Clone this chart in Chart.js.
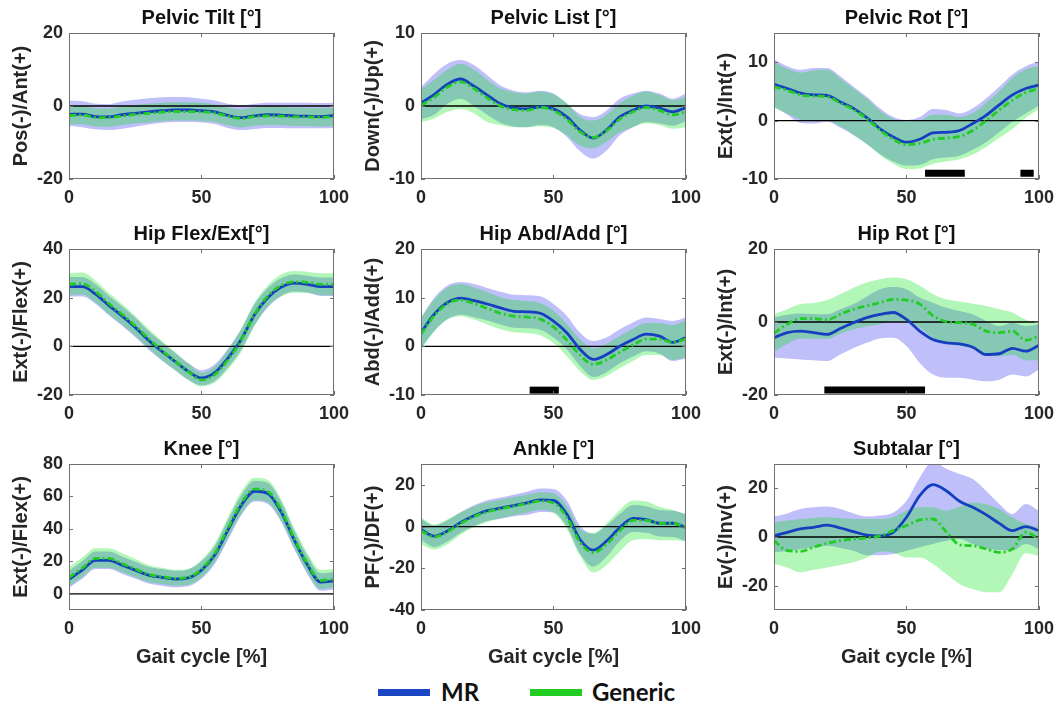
<!DOCTYPE html>
<html>
<head>
<meta charset="utf-8">
<script src="https://cdn.jsdelivr.net/npm/chart.js@4.4.0/dist/chart.umd.min.js"></script>
<style>
  html, body { margin: 0; padding: 0; background: #fff; }
  body { width: 1058px; height: 706px; position: relative; overflow: hidden; }
  .panel { position: absolute; }
  .legend-line { position: absolute; height: 7px; width: 52px; }
  .legend-text { position: absolute; font-family: Lato, "Open Sans", sans-serif; font-weight: 700; font-size: 24px; color: #111; line-height: 28px; }
</style>
</head>
<body>
<div class="legend-line" style="left:378px; top:689px; background:#1a46c4;"></div>
<div class="legend-text" style="left:441px; top:678px;">MR</div>
<div class="legend-line" style="left:530px; top:689px; background:#22cc22;"></div>
<div class="legend-text" style="left:592px; top:678px;">Generic</div>

<script>
// =============================================
// Gait kinematics: MR vs Generic (mean line + band)
// =============================================

const gaitPct = [0, 5, 10, 15, 20, 25, 30, 35, 40, 45, 50, 55, 60, 65, 70, 75, 80, 85, 90, 95, 100];
const xTicks = [0, 50, 100];
const refLevel = 0;

// --- Pelvic Tilt ---
const pelvicTiltMR    = [-2.3, -2.2, -2.9, -3.0, -2.4, -2.0, -1.6, -1.3, -1.1, -1.1, -1.3, -1.6, -2.6, -3.2, -2.7, -2.4, -2.5, -2.7, -2.8, -2.9, -2.6];
const pelvicTiltMRUp  = [1.5, 1.3, 0.6, 0.5, 1.2, 1.7, 2.1, 2.4, 2.5, 2.4, 2.0, 1.5, 0.6, 0.2, 0.6, 0.9, 0.9, 0.9, 0.9, 0.8, 0.9];
const pelvicTiltMRLo  = [-5.4, -5.8, -6.4, -6.6, -6.2, -5.7, -5.1, -4.6, -4.4, -4.4, -4.5, -4.9, -6.0, -6.6, -6.3, -6.0, -6.0, -6.1, -6.1, -6.1, -6.0];
const pelvicTiltGen   = [-2.6, -2.5, -3.1, -3.2, -2.7, -2.3, -2.0, -1.7, -1.5, -1.5, -1.6, -1.9, -2.8, -3.4, -2.9, -2.7, -2.8, -3.0, -3.0, -3.1, -2.9];
const pelvicTiltGenUp = [0.0, 0.0, -0.6, -0.7, -0.1, 0.3, 0.6, 0.9, 1.0, 1.0, 0.9, 0.5, -0.4, -0.9, -0.4, -0.2, -0.3, -0.5, -0.5, -0.6, -0.4];
const pelvicTiltGenLo = [-5.1, -5.0, -5.6, -5.7, -5.2, -4.8, -4.5, -4.2, -4.0, -4.0, -4.1, -4.4, -5.3, -5.9, -5.4, -5.2, -5.3, -5.5, -5.5, -5.6, -5.4];

// --- Pelvic List ---
const pelvicListMR    = [0.4, 1.6, 3.0, 3.7, 2.7, 1.5, 0.3, -0.3, -0.4, -0.1, -0.4, -1.5, -3.3, -4.4, -3.3, -1.5, -0.6, 0.0, -0.3, -0.8, -0.2];
const pelvicListMRUp  = [2.6, 4.4, 5.8, 6.3, 5.6, 4.2, 2.8, 2.1, 1.9, 2.1, 1.7, 0.3, -1.1, -1.5, -0.6, 1.0, 1.7, 2.1, 1.7, 1.0, 1.7];
const pelvicListMRLo  = [-1.8, -1.2, 0.3, 1.0, 0.0, -1.2, -2.3, -2.8, -2.9, -2.6, -2.9, -4.2, -6.2, -7.2, -6.1, -4.0, -2.9, -2.2, -2.4, -2.7, -2.1];
const pelvicListGen   = [0.1, 1.2, 2.6, 3.3, 2.4, 1.1, 0.0, -0.5, -0.6, -0.2, -0.6, -1.8, -3.5, -4.3, -3.4, -1.8, -0.8, -0.2, -0.6, -1.2, -0.8];
const pelvicListGenUp = [2.3, 3.6, 5.0, 5.8, 5.0, 3.6, 2.4, 1.9, 1.7, 2.0, 1.6, 0.4, -1.5, -2.0, -1.2, 0.4, 1.4, 2.0, 1.5, 0.8, 1.2];
const pelvicListGenLo = [-2.2, -1.7, -0.8, -0.4, -1.0, -2.2, -2.6, -2.9, -2.9, -2.8, -3.0, -4.0, -5.4, -5.8, -4.9, -3.6, -2.9, -2.4, -2.6, -3.1, -2.9];

// --- Pelvic Rot ---
const pelvicRotMR    = [6.2, 5.5, 4.7, 4.4, 4.3, 3.2, 2.1, 0.5, -1.4, -2.8, -3.7, -3.2, -2.1, -2.0, -1.7, -0.5, 0.9, 2.7, 4.4, 5.5, 6.1];
const pelvicRotMRUp  = [10.5, 9.3, 8.7, 9.0, 9.0, 7.6, 5.8, 4.1, 2.1, 0.6, 0.1, 0.6, 2.0, 1.8, 1.2, 2.1, 3.8, 5.8, 7.9, 9.3, 10.1];
const pelvicRotMRLo  = [2.4, 1.0, -0.4, -0.5, -0.2, -1.2, -2.5, -4.0, -5.7, -7.0, -7.7, -7.6, -6.6, -6.3, -6.0, -5.0, -3.7, -2.0, -0.2, 1.2, 2.6];
const pelvicRotGen   = [5.8, 5.2, 4.4, 4.2, 4.1, 3.0, 1.9, 0.3, -1.6, -3.2, -4.1, -3.9, -3.2, -3.0, -2.7, -1.7, 0.0, 1.8, 3.5, 4.8, 5.5];
const pelvicRotGenUp = [10.0, 8.9, 8.2, 8.6, 8.7, 7.2, 5.5, 3.8, 1.7, 0.3, -0.2, 0.0, 1.0, 1.0, 0.6, 1.3, 3.0, 5.0, 7.3, 8.8, 9.3];
const pelvicRotGenLo = [2.2, 1.2, 0.2, 0.0, 0.0, -1.0, -2.4, -4.0, -5.9, -7.4, -8.3, -8.2, -7.4, -7.0, -6.6, -5.8, -4.5, -3.0, -1.4, 0.5, 2.0];
const pelvicRotSig = [[57, 72], [93, 98]];
const pelvicRotSigLevel = -9;

// --- Hip Flex/Ext ---
const hipFlexMR    = [24.5, 24.5, 21.5, 16.8, 12.5, 7.8, 2.5, -2.0, -6.2, -10.3, -13.0, -10.8, -4.8, 2.8, 13.0, 20.0, 24.3, 26.0, 25.5, 24.5, 24.5];
const hipFlexMRUp  = [28.5, 28.5, 25.5, 20.8, 16.5, 11.8, 6.3, 1.8, -2.6, -6.9, -9.8, -7.4, -1.0, 7.0, 17.3, 24.0, 28.0, 29.5, 29.0, 28.3, 28.3];
const hipFlexMRLo  = [20.5, 20.5, 17.5, 12.8, 8.5, 3.8, -1.3, -5.8, -9.8, -13.7, -16.0, -14.2, -8.6, -1.4, 8.7, 16.0, 20.6, 22.5, 22.0, 20.7, 20.7];
const hipFlexGen   = [25.5, 25.8, 22.5, 17.6, 13.2, 8.4, 3.2, -1.6, -6.0, -10.4, -13.8, -11.6, -5.5, 2.5, 13.2, 20.7, 25.0, 26.5, 26.3, 25.5, 25.5];
const hipFlexGenUp = [30.0, 30.3, 27.0, 22.0, 17.4, 12.5, 7.2, 2.3, -2.3, -7.0, -10.8, -8.3, -1.5, 7.3, 18.0, 25.0, 29.5, 31.0, 30.6, 30.0, 30.0];
const hipFlexGenLo = [21.0, 21.3, 18.0, 13.2, 9.0, 4.3, -0.8, -5.5, -9.7, -13.8, -16.5, -14.9, -9.5, -2.3, 8.4, 16.4, 20.5, 22.0, 22.0, 21.0, 21.0];

// --- Hip Abd/Add ---
const hipAbdMR    = [2.8, 6.6, 9.0, 9.9, 9.4, 8.7, 7.9, 7.2, 7.1, 6.8, 5.2, 2.8, -0.6, -2.7, -1.7, 0.0, 1.4, 2.5, 2.1, 0.8, 1.8];
const hipAbdMRUp  = [5.9, 10.0, 12.5, 13.2, 12.8, 12.0, 11.2, 10.6, 10.5, 10.3, 8.7, 6.3, 2.8, 1.1, 1.8, 3.5, 4.9, 5.9, 5.6, 5.2, 5.9];
const hipAbdMRLo  = [-0.3, 3.2, 5.6, 6.5, 6.0, 5.3, 4.5, 3.8, 3.7, 3.4, 1.8, -0.6, -4.0, -6.3, -5.3, -3.5, -2.1, -1.0, -1.5, -3.0, -2.5];
const hipAbdGen   = [2.5, 6.3, 8.8, 9.5, 8.8, 7.8, 6.8, 6.2, 6.0, 5.6, 4.0, 1.3, -1.8, -3.7, -2.8, -1.2, 0.3, 1.5, 1.5, 0.8, 1.5];
const hipAbdGenUp = [5.8, 9.6, 12.1, 12.8, 12.1, 11.1, 10.1, 9.5, 9.3, 8.9, 7.3, 4.6, 1.5, -0.4, 0.5, 2.1, 3.6, 4.8, 4.8, 4.4, 5.3];
const hipAbdGenLo = [-0.6, 3.0, 5.5, 6.2, 5.5, 4.5, 3.5, 2.9, 2.7, 2.3, 0.7, -2.0, -5.1, -6.9, -6.1, -4.5, -3.0, -1.8, -1.8, -2.8, -2.3];
const hipAbdSig = [[41, 52]];
const hipAbdSigLevel = -9;

// --- Hip Rot ---
const hipRotMR    = [-4.3, -2.9, -2.5, -2.9, -3.4, -1.8, -0.2, 1.2, 2.1, 2.6, 0.7, -2.5, -4.8, -5.7, -6.0, -6.9, -8.9, -8.7, -7.2, -8.0, -6.4];
const hipRotMRUp  = [1.2, 2.0, 2.3, 2.2, 2.1, 3.5, 4.9, 7.0, 9.0, 9.6, 9.0, 6.7, 5.3, 3.9, 3.0, 2.1, 0.3, -1.1, -0.2, -1.1, -0.6];
const hipRotMRLo  = [-9.8, -10.0, -10.3, -10.5, -10.7, -8.9, -7.1, -5.7, -4.5, -4.3, -6.6, -11.2, -14.4, -15.3, -15.3, -15.8, -16.2, -15.8, -14.4, -14.9, -13.0];
const hipRotGen   = [-3.1, -0.6, 0.9, 0.9, 0.6, 2.1, 3.5, 4.4, 5.3, 6.2, 6.0, 4.9, 1.7, 0.1, -0.2, -0.6, -2.5, -2.9, -2.5, -5.0, -3.9];
const hipRotGenUp = [2.1, 3.5, 4.9, 5.2, 6.0, 7.6, 9.4, 10.8, 11.7, 12.2, 11.7, 9.9, 7.6, 6.2, 5.6, 5.0, 4.4, 3.5, 2.6, 0.6, -0.2];
const hipRotGenLo = [-8.0, -6.0, -4.5, -4.6, -4.6, -3.2, -2.0, -1.2, -0.6, 0.2, 0.2, -1.5, -4.3, -5.8, -6.5, -7.0, -8.6, -9.4, -9.0, -10.5, -10.5];
const hipRotSig = [[19, 57]];
const hipRotSigLevel = -18.6;

// --- Knee ---
const kneeMR    = [8.9, 14.6, 20.6, 20.6, 17.7, 14.6, 11.5, 10.1, 9.1, 9.8, 14.6, 23.9, 39.4, 54.5, 63.2, 61.8, 50.7, 33.2, 17.7, 7.2, 8.0];
const kneeMRUp  = [14.2, 20.0, 26.0, 26.0, 23.0, 19.8, 16.7, 15.2, 14.2, 15.0, 20.0, 29.5, 45.5, 60.7, 69.5, 68.3, 57.0, 39.0, 23.3, 12.6, 13.4];
const kneeMRLo  = [3.6, 9.2, 15.2, 15.2, 12.4, 9.4, 6.3, 5.0, 4.0, 4.6, 9.2, 18.3, 33.3, 48.3, 56.9, 55.3, 44.4, 27.4, 12.1, 1.8, 2.6];
const kneeGen   = [10.0, 15.8, 21.8, 21.8, 18.6, 15.3, 12.0, 10.5, 9.5, 10.2, 15.2, 24.8, 40.5, 55.7, 64.5, 63.1, 51.8, 34.0, 18.5, 8.2, 9.0];
const kneeGenUp = [16.5, 22.3, 28.0, 28.0, 25.0, 21.5, 17.8, 16.0, 14.8, 15.5, 21.0, 31.0, 47.2, 62.7, 71.5, 70.1, 58.5, 40.5, 25.0, 14.7, 15.5];
const kneeGenLo = [4.5, 10.3, 16.0, 16.0, 13.3, 10.2, 7.2, 6.0, 5.0, 5.5, 10.2, 19.5, 34.5, 49.2, 57.7, 56.3, 45.5, 28.5, 13.0, 3.0, 4.0];

// --- Ankle ---
const ankleMR    = [-1.3, -4.6, -2.1, 2.0, 5.2, 7.6, 8.8, 10.1, 11.4, 12.8, 12.5, 6.0, -6.2, -11.3, -7.0, -0.5, 3.9, 3.3, 1.6, 1.6, -0.5];
const ankleMRUp  = [3.6, 0.5, 3.0, 7.0, 10.2, 12.6, 13.9, 15.3, 16.7, 18.3, 18.0, 12.5, 0.5, -3.5, 0.5, 6.0, 10.4, 9.8, 8.0, 7.6, 6.0];
const ankleMRLo  = [-6.3, -9.8, -7.2, -3.0, 0.2, 2.7, 3.8, 5.0, 5.5, 7.0, 6.8, 0.0, -13.0, -19.2, -14.5, -7.0, -2.6, -3.0, -4.8, -5.0, -7.0];
const ankleGen   = [-2.0, -5.0, -2.5, 1.5, 4.8, 7.0, 8.5, 9.8, 11.0, 12.2, 11.3, 4.5, -7.5, -12.5, -8.5, -2.0, 3.0, 3.0, 1.5, 1.5, -0.5];
const ankleGenUp = [4.5, 1.0, 3.5, 6.8, 9.8, 11.8, 13.0, 14.2, 15.2, 16.4, 16.0, 10.0, -1.0, -3.0, 1.5, 8.0, 12.5, 12.0, 9.5, 8.0, 6.0];
const ankleGenLo = [-8.5, -11.0, -8.5, -3.8, -0.2, 2.2, 4.0, 5.4, 6.8, 8.0, 6.6, -1.0, -14.0, -22.0, -18.5, -12.0, -6.5, -6.0, -6.5, -6.5, -7.0];

// --- Subtalar ---
const subtalarMR    = [0.5, 1.9, 3.3, 4.0, 4.9, 3.7, 2.2, 0.8, 0.5, 1.9, 8.1, 17.0, 21.5, 19.0, 14.7, 12.2, 9.2, 5.6, 2.6, 4.3, 2.6];
const subtalarMRUp  = [8.4, 9.7, 11.5, 12.2, 12.5, 11.5, 9.7, 8.4, 8.8, 10.1, 14.9, 24.5, 31.0, 28.0, 25.9, 23.8, 19.0, 13.6, 9.5, 13.6, 10.8];
const subtalarMRLo  = [-6.3, -5.8, -5.0, -4.3, -3.6, -4.5, -5.6, -7.5, -7.5, -7.0, -5.6, -4.2, -2.9, -1.5, -0.8, -2.9, -4.9, -5.3, -5.6, -2.9, -4.9];
const subtalarGen   = [-1.5, -5.6, -5.9, -4.2, -2.6, -1.5, -0.8, -0.4, 0.5, 2.6, 4.7, 7.0, 7.4, 2.2, -3.2, -3.6, -4.9, -6.3, -4.9, 1.9, -0.8];
const subtalarGenUp = [6.0, 6.8, 7.4, 7.8, 8.1, 7.8, 7.4, 7.4, 7.4, 8.2, 10.8, 12.2, 12.2, 10.8, 12.5, 14.2, 13.5, 11.5, 8.0, 5.3, 4.0];
const subtalarGenLo = [-11.0, -12.5, -14.5, -13.5, -12.5, -11.5, -10.4, -8.5, -6.0, -6.5, -8.4, -8.4, -11.1, -15.2, -19.3, -21.4, -22.7, -22.7, -15.2, -6.7, -7.7];

// --- panel labels / axes ---
const panelTitles = ['Pelvic Tilt [°]', 'Pelvic List [°]', 'Pelvic Rot [°]', 'Hip Flex/Ext[°]', 'Hip Abd/Add [°]', 'Hip Rot [°]', 'Knee [°]', 'Ankle [°]', 'Subtalar [°]'];
const yTitles = ['Pos(-)/Ant(+)', 'Down(-)/Up(+)', 'Ext(-)/Int(+)', 'Ext(-)/Flex(+)', 'Abd(-)/Add(+)', 'Ext(-)/Int(+)', 'Ext(-)/Flex(+)', 'PF(-)/DF(+)', 'Ev(-)/Inv(+)'];
const yRanges = [[-20, 20], [-10, 10], [-10, 15], [-20, 40], [-10, 20], [-20, 20], [-10, 80], [-40, 30], [-30, 30]];
const yTickSets = [[-20, 0, 20], [-10, 0, 10], [-10, 0, 10], [-20, 0, 20, 40], [-10, 0, 10, 20], [-20, 0, 20], [0, 20, 40, 60, 80], [-40, -20, 0, 20], [-20, 0, 20]];
const xTitle = 'Gait cycle [%]';

const panels = [
  { mr: pelvicTiltMR, mrUp: pelvicTiltMRUp, mrLo: pelvicTiltMRLo, gen: pelvicTiltGen, genUp: pelvicTiltGenUp, genLo: pelvicTiltGenLo },
  { mr: pelvicListMR, mrUp: pelvicListMRUp, mrLo: pelvicListMRLo, gen: pelvicListGen, genUp: pelvicListGenUp, genLo: pelvicListGenLo },
  { mr: pelvicRotMR, mrUp: pelvicRotMRUp, mrLo: pelvicRotMRLo, gen: pelvicRotGen, genUp: pelvicRotGenUp, genLo: pelvicRotGenLo, sig: pelvicRotSig, sigLevel: pelvicRotSigLevel },
  { mr: hipFlexMR, mrUp: hipFlexMRUp, mrLo: hipFlexMRLo, gen: hipFlexGen, genUp: hipFlexGenUp, genLo: hipFlexGenLo },
  { mr: hipAbdMR, mrUp: hipAbdMRUp, mrLo: hipAbdMRLo, gen: hipAbdGen, genUp: hipAbdGenUp, genLo: hipAbdGenLo, sig: hipAbdSig, sigLevel: hipAbdSigLevel },
  { mr: hipRotMR, mrUp: hipRotMRUp, mrLo: hipRotMRLo, gen: hipRotGen, genUp: hipRotGenUp, genLo: hipRotGenLo, sig: hipRotSig, sigLevel: hipRotSigLevel },
  { mr: kneeMR, mrUp: kneeMRUp, mrLo: kneeMRLo, gen: kneeGen, genUp: kneeGenUp, genLo: kneeGenLo },
  { mr: ankleMR, mrUp: ankleMRUp, mrLo: ankleMRLo, gen: ankleGen, genUp: ankleGenUp, genLo: ankleGenLo },
  { mr: subtalarMR, mrUp: subtalarMRUp, mrLo: subtalarMRLo, gen: subtalarGen, genUp: subtalarGenUp, genLo: subtalarGenLo }
];

// layout (px)
const COL_LEFT = [69, 421, 774];
const ROW_TOP = [33, 249, 464];
const PLOT_W = 266, PLOT_H = 146;
const AXIS_W = 69, TITLE_H = 33;

const FONT = '"Liberation Sans", Arial, sans-serif';
const TEXT = '#262626';
const MR_LINE = '#1440c0';
const GEN_LINE = '#22cc22';
const MR_BAND = 'rgba(8, 8, 236, 0.26)';
const GEN_BAND = 'rgba(0, 225, 20, 0.30)';

const toXY = ys => gaitPct.map((x, i) => ({ x, y: ys[i] }));

// axes box with inward tick marks, like a MATLAB "box on" axes
const frameBox = {
  id: 'frameBox',
  afterDatasetsDraw(chart) {
    const { ctx, chartArea: a, scales: { x, y } } = chart;
    ctx.save();
    ctx.strokeStyle = '#707070';
    ctx.lineWidth = 1;
    ctx.strokeRect(a.left + 0.5, a.top + 0.5, a.width - 1, a.height - 1);
    ctx.beginPath();
    x.ticks.forEach(t => {
      const px = Math.round(x.getPixelForValue(t.value)) + 0.5;
      ctx.moveTo(px, a.bottom); ctx.lineTo(px, a.bottom - 4);
      ctx.moveTo(px, a.top); ctx.lineTo(px, a.top + 4);
    });
    y.ticks.forEach(t => {
      const py = Math.round(y.getPixelForValue(t.value)) + 0.5;
      ctx.moveTo(a.left, py); ctx.lineTo(a.left + 4, py);
      ctx.moveTo(a.right, py); ctx.lineTo(a.right - 4, py);
    });
    ctx.stroke();
    ctx.restore();
  }
};

// significance bars: one segment per range, broken by a null point between ranges
function sigData(ranges, level) {
  const pts = [];
  (ranges || []).forEach(([a, b], i) => {
    if (i > 0) pts.push({ x: a, y: null });
    pts.push({ x: a, y: level }, { x: b, y: level });
  });
  return pts;
}

function makePanel(idx) {
  const p = panels[idx];
  const col = idx % 3, row = Math.floor(idx / 3);
  const bottomRow = row === 2;
  const w = AXIS_W + PLOT_W + 22;
  const h = TITLE_H + PLOT_H + (bottomRow ? 60 : 30);

  const wrap = document.createElement('div');
  wrap.className = 'panel';
  wrap.style.left = (COL_LEFT[col] - AXIS_W) + 'px';
  wrap.style.top = (ROW_TOP[row] - TITLE_H) + 'px';
  const canvas = document.createElement('canvas');
  canvas.width = w;
  canvas.height = h;
  wrap.appendChild(canvas);
  document.body.appendChild(wrap);

  const band = (data, color, order, fill) => ({
    data: toXY(data), fill: fill ? '+1' : false, backgroundColor: color,
    borderWidth: 0, borderColor: 'transparent', pointRadius: 0, order,
    cubicInterpolationMode: 'monotone'
  });

  const datasets = [
    band(p.mrUp, MR_BAND, 7, true),
    band(p.mrLo, MR_BAND, 7, false),
    band(p.genUp, GEN_BAND, 6, true),
    band(p.genLo, GEN_BAND, 6, false),
    {
      data: [{ x: gaitPct[0], y: refLevel }, { x: gaitPct[gaitPct.length - 1], y: refLevel }],
      borderColor: '#000', borderWidth: 1.3, pointRadius: 0, fill: false, order: 3
    },
    {
      data: toXY(p.mr), borderColor: MR_LINE, borderWidth: 2.8, pointRadius: 0,
      fill: false, order: 2, cubicInterpolationMode: 'monotone'
    },
    {
      data: toXY(p.gen), borderColor: GEN_LINE, borderWidth: 2.8, pointRadius: 0,
      borderDash: [7, 3, 2, 3], fill: false, order: 1, cubicInterpolationMode: 'monotone'
    },
    {
      data: sigData(p.sig, p.sigLevel), borderColor: '#000', borderWidth: 7,
      borderCapStyle: 'butt', pointRadius: 0, fill: false, spanGaps: false, order: 0
    }
  ];

  const tickFont = { family: FONT, size: 18, weight: 'bold' };

  new Chart(canvas, {
    type: 'line',
    data: { datasets },
    options: {
      responsive: false,
      animation: false,
      events: [],
      layout: { padding: 0 },
      plugins: {
        legend: { display: false },
        tooltip: { enabled: false },
        title: {
          display: true,
          text: panelTitles[idx],
          fullSize: false,
          color: '#111',
          font: { family: FONT, size: 20, weight: 'bold', lineHeight: 1.2 },
          padding: { top: 6, bottom: 3 }
        }
      },
      scales: {
        x: {
          type: 'linear',
          min: 0, max: 100,
          grid: { display: false, drawTicks: false },
          border: { display: false },
          ticks: { font: tickFont, color: TEXT, padding: 8, maxRotation: 0, autoSkip: false },
          afterBuildTicks: s => { s.ticks = xTicks.map(v => ({ value: v })); },
          afterFit: s => { s.height = bottomRow ? 60 : 30; },
          title: {
            display: bottomRow,
            text: xTitle,
            color: TEXT,
            font: { family: FONT, size: 20, weight: 'bold', lineHeight: 1.2 },
            padding: { top: 0, bottom: 1 }
          }
        },
        y: {
          min: yRanges[idx][0], max: yRanges[idx][1],
          grid: { display: false, drawTicks: false },
          border: { display: false },
          ticks: { font: tickFont, color: TEXT, padding: 6 },
          afterBuildTicks: s => { s.ticks = yTickSets[idx].map(v => ({ value: v })); },
          afterFit: s => { s.width = AXIS_W; },
          title: {
            display: true,
            text: yTitles[idx],
            color: TEXT,
            font: { family: FONT, size: 20, weight: 'bold', lineHeight: 1.2 },
            padding: { top: 9, bottom: 0 }
          }
        }
      }
    },
    plugins: [frameBox]
  });
}

panels.forEach((_, i) => makePanel(i));
</script>
</body>
</html>
